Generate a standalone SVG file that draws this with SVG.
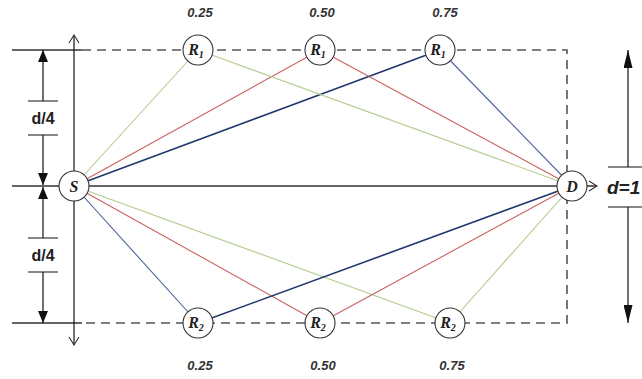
<svg xmlns="http://www.w3.org/2000/svg" width="642" height="379" viewBox="0 0 642 379">
<defs>
<style>
.bg{fill:#ffffff}
.dash{stroke:#555;stroke-width:1.6;stroke-dasharray:9 6;fill:none}
.solid{stroke:#333;stroke-width:1.4;fill:none}
.dim{stroke:#111;stroke-width:1.2;fill:none}
.g{stroke:#b3cc8c;stroke-width:1.1}
.r{stroke:#c8625f;stroke-width:1.1}
.b{stroke:#4d649c;stroke-width:1.1}
.bd{stroke:#22376e;stroke-width:1.6}
.node circle{fill:#fff;stroke:#333;stroke-width:1.1}
.nl{font-family:"Liberation Serif",serif;font-style:italic;font-weight:bold;font-size:16px;fill:#222;text-anchor:middle}
.sub{font-size:10px}
.val{font-family:"Liberation Sans",sans-serif;font-style:italic;font-weight:bold;font-size:13px;fill:#333;text-anchor:middle}
.dl{font-family:"Liberation Sans",sans-serif;font-weight:bold;font-size:16px;fill:#222;text-anchor:middle}
.d1{font-family:"Liberation Sans",sans-serif;font-style:italic;font-weight:bold;font-size:19px;fill:#222}
</style>
<marker id="open" viewBox="0 0 10 12" refX="9" refY="6" markerWidth="10" markerHeight="12" markerUnits="userSpaceOnUse" orient="auto-start-reverse">
<path d="M1,1 L9,6 L1,11" fill="none" stroke="#333" stroke-width="1.1"/>
</marker>
<marker id="fs" viewBox="0 0 12 10" refX="12" refY="5" markerWidth="12" markerHeight="10" markerUnits="userSpaceOnUse" orient="auto-start-reverse">
<path d="M0,0 L12,5 L0,10 z" fill="#111"/>
</marker>
<marker id="fl" viewBox="0 0 18 9" refX="18" refY="4.5" markerWidth="18" markerHeight="9" markerUnits="userSpaceOnUse" orient="auto-start-reverse">
<path d="M0,0 L18,4.5 L0,9 z" fill="#111"/>
</marker>
</defs>
<rect class="bg" x="0" y="0" width="642" height="379"/>

<g id="frame">
<path class="solid" d="M12,50 H82"/>
<path class="solid" d="M12,323 H82"/>
<path class="dash" d="M82,50 H567 V323 H82"/>
<path class="dim" d="M74,35 V345" marker-start="url(#open)" marker-end="url(#open)"/>
</g>

<g id="connectors">
<line class="g" x1="74" y1="186" x2="198" y2="50"/>
<line class="r" x1="74" y1="186" x2="320" y2="50"/>
<line class="bd" x1="74" y1="186" x2="440" y2="50"/>
<line class="g" x1="198" y1="50" x2="572" y2="186"/>
<line class="r" x1="320" y1="50" x2="572" y2="186"/>
<line class="b" x1="440" y1="50" x2="572" y2="186"/>
<line class="b" x1="74" y1="186" x2="198" y2="323"/>
<line class="r" x1="74" y1="186" x2="320" y2="323"/>
<line class="g" x1="74" y1="186" x2="450" y2="323"/>
<line class="bd" x1="198" y1="323" x2="572" y2="186"/>
<line class="r" x1="320" y1="323" x2="572" y2="186"/>
<line class="g" x1="450" y1="323" x2="572" y2="186"/>
<path d="M12,186 H597" stroke="#333" stroke-width="1.6" fill="none" marker-end="url(#open)"/>
</g>

<g id="dim-left">
<path class="dim" d="M43,101 V50" marker-end="url(#fs)"/>
<path class="dim" d="M43,135 V185" marker-end="url(#fs)"/>
<path class="dim" d="M28,101 H58 M28,135 H58"/>
<text class="dl" x="43" y="124">d/4</text>
<path class="dim" d="M43,238 V187" marker-end="url(#fs)"/>
<path class="dim" d="M43,272 V323" marker-end="url(#fs)"/>
<path class="dim" d="M28,238 H58 M28,272 H58"/>
<text class="dl" x="43" y="261">d/4</text>
</g>

<g id="dim-right">
<path class="dim" d="M628,167 V50" marker-end="url(#fl)"/>
<path class="dim" d="M628,207 V323" marker-end="url(#fl)"/>
<path class="dim" d="M608,167 H642 M608,207 H642"/>
<text class="d1" x="607" y="194">d=1</text>
</g>

<g id="S" class="node"><circle cx="74" cy="186" r="15"/><text class="nl" x="74" y="192">S</text></g>
<g id="D" class="node"><circle cx="572" cy="186" r="15"/><text class="nl" x="572" y="192">D</text></g>
<g id="R1a" class="node"><circle cx="198" cy="50" r="15"/><text class="nl" x="196" y="55">R<tspan class="sub" dy="3">1</tspan></text></g>
<g id="R1b" class="node"><circle cx="320" cy="50" r="15"/><text class="nl" x="318" y="55">R<tspan class="sub" dy="3">1</tspan></text></g>
<g id="R1c" class="node"><circle cx="440" cy="50" r="15"/><text class="nl" x="438" y="55">R<tspan class="sub" dy="3">1</tspan></text></g>
<g id="R2a" class="node"><circle cx="198" cy="323" r="15"/><text class="nl" x="196" y="328">R<tspan class="sub" dy="3">2</tspan></text></g>
<g id="R2b" class="node"><circle cx="320" cy="323" r="15"/><text class="nl" x="318" y="328">R<tspan class="sub" dy="3">2</tspan></text></g>
<g id="R2c" class="node"><circle cx="450" cy="323" r="15"/><text class="nl" x="448" y="328">R<tspan class="sub" dy="3">2</tspan></text></g>

<g id="labels">
<text class="val" x="200" y="17">0.25</text>
<text class="val" x="322" y="17">0.50</text>
<text class="val" x="445" y="17">0.75</text>
<text class="val" x="200" y="370">0.25</text>
<text class="val" x="323" y="370">0.50</text>
<text class="val" x="452" y="370">0.75</text>
</g>
</svg>
